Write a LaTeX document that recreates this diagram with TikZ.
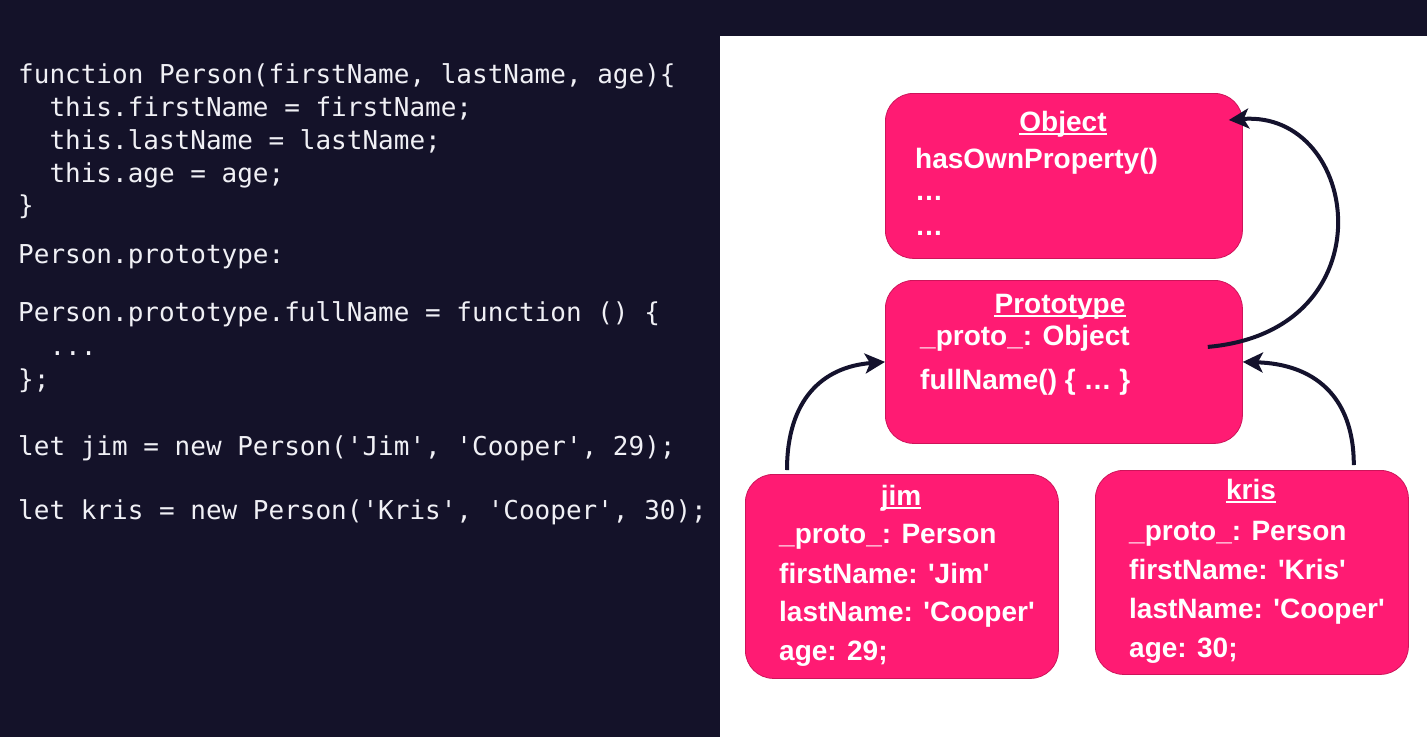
\documentclass[tikz,border=0pt]{standalone}
\usepackage{fontspec}
\setmainfont{Liberation Sans}
\newfontfamily\codefont{DejaVu Sans Mono}
\usetikzlibrary{arrows.meta}
\definecolor{bgdark}{RGB}{20,18,41}
\definecolor{codewhite}{RGB}{240,240,245}
\definecolor{pinkfill}{RGB}{255,27,115}
\definecolor{pinkedge}{RGB}{205,20,90}
\definecolor{arrowc}{RGB}{20,18,45}
\begin{document}
\begin{tikzpicture}[x=1pt,y=-1pt,
  code/.style={anchor=base west, inner sep=0pt, text=codewhite, font=\codefont\fontsize{26}{30}\selectfont},
  objbox/.style={anchor=north west, draw=pinkedge, line width=0.8pt, fill=pinkfill, rounded corners=28pt, inner sep=0pt},
  btxt/.style={anchor=base west, inner sep=0pt, text=white, font=\bfseries\fontsize{28}{32}\selectfont},
  btitle/.style={btxt, anchor=base},
  uline/.style={draw=white, line width=1.6pt},
  link/.style={draw=arrowc, line width=4pt, -{Stealth[length=20pt,width=20pt,inset=5pt]}}]
\useasboundingbox (0,0) rectangle (1427,737);
\fill[bgdark] (0,0) rectangle (1427,737);
\fill[white] (720,36) rectangle (1427,737);

% code
\node[code] (c1) at (18,83) {function Person(firstName, lastName, age)\{};
\node[code] (c2) at (18,116) {\hphantom{xx}this.firstName = firstName;};
\node[code] (c3) at (18,149) {\hphantom{xx}this.lastName = lastName;};
\node[code] (c4) at (18,182) {\hphantom{xx}this.age = age;};
\node[code] (c5) at (18,214) {\}};
\node[code] (c6) at (18,263) {Person.prototype:};
\node[code] (c7) at (18,321) {Person.prototype.fullName = function () \{};
\node[code] (c8) at (18,355) {\hphantom{xx}...};
\node[code] (c9) at (18,388) {\};};
\node[code] (c10) at (18,455) {let jim = new Person(\textquotesingle Jim\textquotesingle, \textquotesingle Cooper\textquotesingle, 29);};
\node[code] (c11) at (18,519) {let kris = new Person(\textquotesingle Kris\textquotesingle, \textquotesingle Cooper\textquotesingle, 30);};

% boxes
\node[objbox, minimum width=357pt, minimum height=165pt] (obj) at (885,93) {};
\node[objbox, minimum width=357pt, minimum height=163pt] (proto) at (885,280) {};
\node[objbox, minimum width=313pt, minimum height=204pt] (jim) at (745,474) {};
\node[objbox, minimum width=313pt, minimum height=204pt] (kris) at (1095,470) {};

% Object text
\node[btitle] (objT) at (1063,131) {Object};
\draw[uline] ([yshift=-3pt]objT.base west) -- ([yshift=-3pt]objT.base east);
\node[btxt] (objL1) at (915,168) {hasOwnProperty()};
\node[btxt] (objL2) at (915,200) {\ldots};
\node[btxt] (objL3) at (915,235) {\ldots};

% Prototype text
\node[btitle] (protoT) at (1060,313) {Prototype};
\draw[uline] ([yshift=-3pt]protoT.base west) -- ([yshift=-3pt]protoT.base east);
\node[btxt] (protoL1) at (920,345) {\_proto\_: Object};
\node[btxt] (protoL2) at (920,389) {fullName() \{ \ldots\ \}};

% jim text
\node[btitle] (jimT) at (901,505) {jim};
\draw[uline] ([yshift=-3pt]jimT.base west) -- ([yshift=-3pt]jimT.base east);
\node[btxt] (jimL1) at (779,543) {\_proto\_: Person};
\node[btxt] (jimL2) at (779,583) {firstName: \textquotesingle Jim\textquotesingle};
\node[btxt] (jimL3) at (779,621) {lastName: \textquotesingle Cooper\textquotesingle};
\node[btxt] (jimL4) at (779,660) {age: 29;};

% kris text
\node[btitle] (krisT) at (1251,499) {kris};
\draw[uline] ([yshift=-3pt]krisT.base west) -- ([yshift=-3pt]krisT.base east);
\node[btxt] (krisL1) at (1129,540) {\_proto\_: Person};
\node[btxt] (krisL2) at (1129,579) {firstName: \textquotesingle Kris\textquotesingle};
\node[btxt] (krisL3) at (1129,618) {lastName: \textquotesingle Cooper\textquotesingle};
\node[btxt] (krisL4) at (1129,657) {age: 30;};

% connectors
\draw[link] ([xshift=-35pt,yshift=15pt]proto.east) .. controls +(183,-16) and +(132,-10) .. ([xshift=-14pt,yshift=-27pt]obj.north east);
\draw[link] ([xshift=42pt,yshift=4pt]jim.north west) .. controls +(0,-70) and +(-63,5) .. (proto.west);
\draw[link] ([xshift=-55pt,yshift=5pt]kris.north east) .. controls +(0,-70) and +(70,2) .. (proto.east);
\end{tikzpicture}
\end{document}
